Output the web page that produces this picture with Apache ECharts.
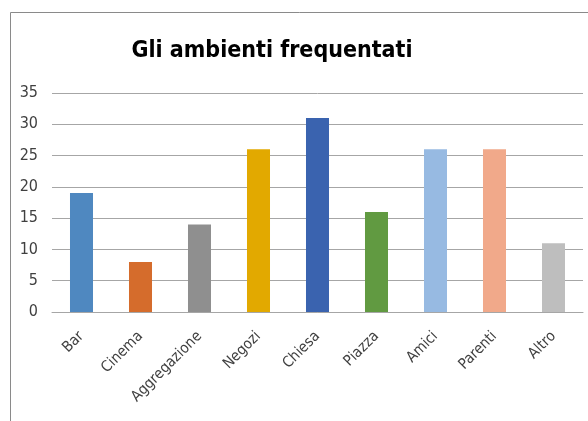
<!DOCTYPE html>
<html><head><meta charset="utf-8">
<script src="https://cdn.jsdelivr.net/npm/echarts@6/dist/echarts.min.js"></script>
<style>html,body{margin:0;padding:0;background:#fff}#c{width:588px;height:421px}</style>
</head><body><div id="c"></div>
<script>
var categories = ['Bar','Cinema','Aggregazione','Negozi','Chiesa','Piazza','Amici','Parenti','Altro'];
var values = [19, 8, 14, 26, 31, 16, 26, 26, 11];
var colors = ['#4F88C0','#D56C2C','#8F8F8F','#E2A900','#3A63AF','#619A41','#97BAE2','#F1A98A','#BEBEBE'];
var yTicks = [0, 5, 10, 15, 20, 25, 30, 35];
var FONT = "'Liberation Sans Narrow', 'DejaVu Sans Condensed', 'Open Sans', sans-serif";

var chart = echarts.init(document.getElementById('c'));
chart.setOption({
  animation: false,
  title: {
    text: 'Gli ambienti frequentati',
    left: 267, top: 35, textAlign: 'center',
    textStyle: {fontFamily: FONT, fontWeight: 'bold', fontSize: 23, color: '#000'}
  },
  graphic: [{
    type: 'rect', shape: {x: 10.5, y: 12.5, width: 700, height: 600},
    style: {fill: 'none', stroke: '#8a8a8a', lineWidth: 1}, silent: true
  }],
  grid: {left: 52, right: 5, top: 93, bottom: 109},
  xAxis: {
    type: 'category', data: categories,
    axisLine: {lineStyle: {color: '#a6a6a6'}},
    axisTick: {show: false},
    axisLabel: {rotate: 45, fontFamily: FONT, fontSize: 15, color: '#404040', margin: 22, interval: 0}
  },
  yAxis: {
    type: 'value', min: yTicks[0], max: yTicks[yTicks.length - 1], interval: 5,
    axisLine: {show: false}, axisTick: {show: false},
    splitLine: {lineStyle: {color: '#a6a6a6'}},
    axisLabel: {fontFamily: FONT, fontSize: 16, color: '#404040', margin: 14}
  },
  series: [{
    type: 'bar', barWidth: '39%',
    data: values.map(function (v, i) { return {value: v, itemStyle: {color: colors[i]}}; })
  }]
});
</script></body></html>
